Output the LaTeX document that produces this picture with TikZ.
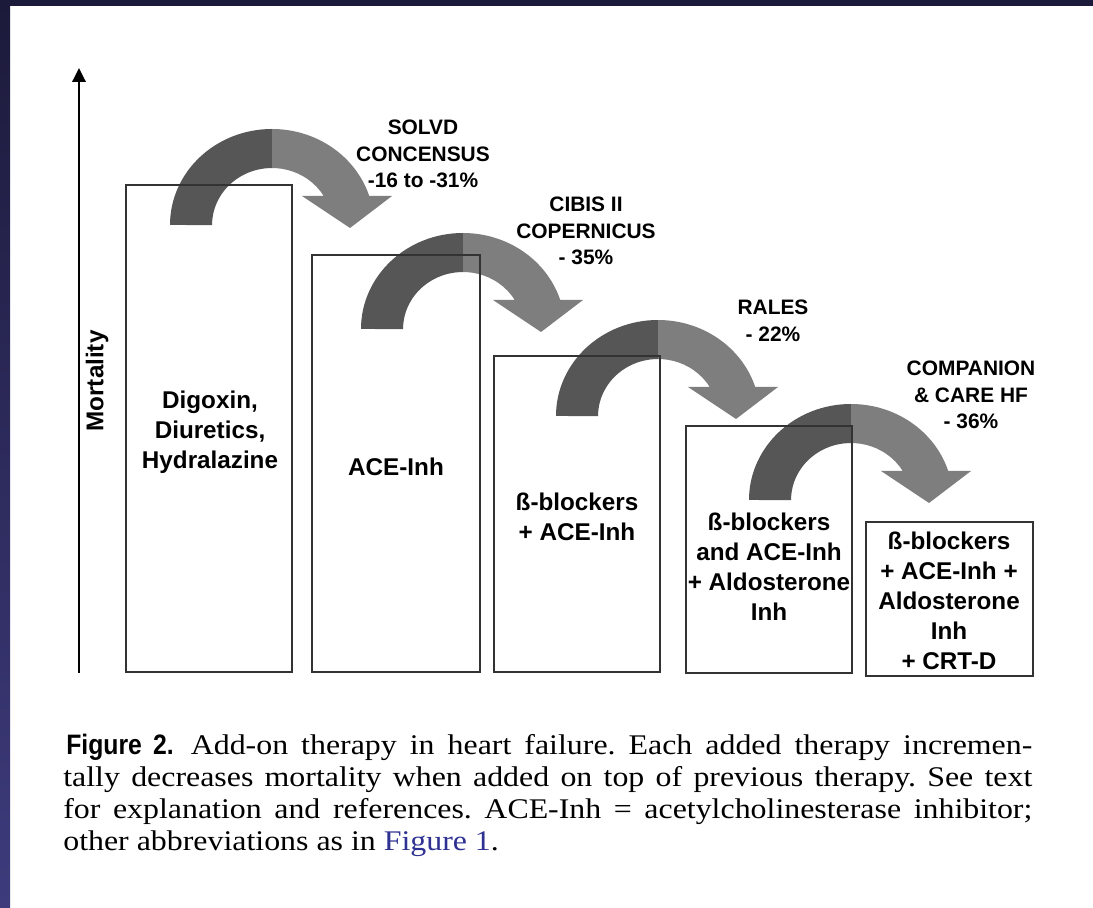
\documentclass[tikz,border=0pt]{standalone}
\usepackage{fontspec}
\setmainfont{Liberation Sans}
\newfontfamily\capserif[FakeStretch=1.12]{Liberation Serif}
\newfontfamily\figsans[FakeStretch=0.88]{Liberation Sans}
\usetikzlibrary{arrows.meta}

\newlength\pxl
\setlength\pxl{0.02cm}
\definecolor{frametop}{HTML}{1C1A3A}
\definecolor{framelow}{HTML}{3E3B7D}
\definecolor{turndark}{HTML}{565656}
\definecolor{turnlight}{HTML}{7E7E7E}
\definecolor{figlink}{HTML}{2E3192}

\tikzset{
  bar/.style = {draw=black!80, line width=0.8pt, inner sep=0pt, outer sep=0pt},
  drug/.style = {font=\fontsize{13.8}{17}\selectfont\bfseries, align=center, inner sep=0pt},
  trial/.style = {font=\fontsize{11.9}{15.2}\selectfont\bfseries, align=center, inner sep=0pt},
  capline/.style = {anchor=base west, inner sep=0pt, font=\capserif\fontsize{16.2}{18}\selectfont\frenchspacing},
  bigturn/.pic = {
    \begin{scope}
      \clip (0,0) arc[start angle=180, end angle=342.4, x radius=102, y radius=96]
        -- (222,-29) -- (180,3) -- (132,-29) -- (153.7,-29)
        arc[start angle=329.4, end angle=180, x radius=60, y radius=57] -- cycle;
      \fill[turndark] (-5,8) rectangle (102,-110);
      \fill[turnlight] (102,8) rectangle (230,-110);
    \end{scope}
  }
}

\begin{document}
\begin{tikzpicture}[x=0.02cm, y=-0.02cm]
\useasboundingbox (0,0) rectangle (1093,908);
% frame
\fill[white] (0,0) rectangle (1093,908);
\fill[frametop] (0,0) rectangle (1093,6);
\shade[top color=frametop, bottom color=framelow] (0,0) rectangle (10,908);

% curved arrows
\pic (t1) at (170,225) {bigturn};
\pic (t2) at (361,329) {bigturn};
\pic (t3) at (556,416) {bigturn};
\pic (t4) at (749,500) {bigturn};

% bars
\node[bar, minimum width=166\pxl, minimum height=487\pxl] (b1) at (209,428.5) {};
\node[bar, minimum width=168\pxl, minimum height=417\pxl] (b2) at (396,463.5) {};
\node[bar, minimum width=166\pxl, minimum height=316\pxl] (b3) at (577,514) {};
\node[bar, minimum width=166\pxl, minimum height=247\pxl] (b4) at (769,549.5) {};
\node[bar, minimum width=167\pxl, minimum height=154\pxl] (b5) at (949.5,599) {};

\node[drug] (d1) at (210,432) {Digoxin,\\Diuretics,\\Hydralazine};
\node[drug] (d2) at (396,467) {ACE-Inh};
\node[drug] (d3) at (577,517) {ß-blockers\\+ ACE-Inh};
\node[drug] (d4) at (769,567) {ß-blockers\\and ACE-Inh\\+ Aldosterone\\Inh};
\node[drug] (d5) at (949,601) {ß-blockers\\+ ACE-Inh +\\Aldosterone\\Inh\\+ CRT-D};

% trials
\node[trial] (s1) at (423,154) {SOLVD\\CONCENSUS\\-16 to -31\%};
\node[trial] (s2) at (586,231) {CIBIS II\\COPERNICUS\\- 35\%};
\node[trial] (s3) at (773,321) {RALES\\- 22\%};
\node[trial] (s4) at (971,395) {COMPANION\\\& CARE HF\\- 36\%};

% axis
\coordinate (ax0) at (79,673);
\coordinate (ax1) at (79,68);
\draw[line width=1.7pt, -{Triangle[length=7.9pt, width=7.4pt]}] (ax0) -- (ax1);
\node[rotate=90, font=\fontsize{13.8}{17}\selectfont\bfseries, inner sep=0pt] (mort) at (97,381) {Mortality};

% caption
\node[capline] (c1) at (66,755) {\makebox[966\pxl][s]{{\figsans\bfseries\fontsize{16}{18}\selectfont Figure 2.}\hspace{4\pxl} Add-on therapy in heart failure. Each added therapy incremen-}};
\node[capline] (c2) at (63,787) {\makebox[969\pxl][s]{tally decreases mortality when added on top of previous therapy. See text}};
\node[capline] (c3) at (63,819) {\makebox[969\pxl][s]{for explanation and references. ACE-Inh = acetylcholinesterase inhibitor;}};
\node[capline] (c4) at (63,851) {other abbreviations as in {\color{figlink}Figure 1}.};
\end{tikzpicture}
\end{document}
